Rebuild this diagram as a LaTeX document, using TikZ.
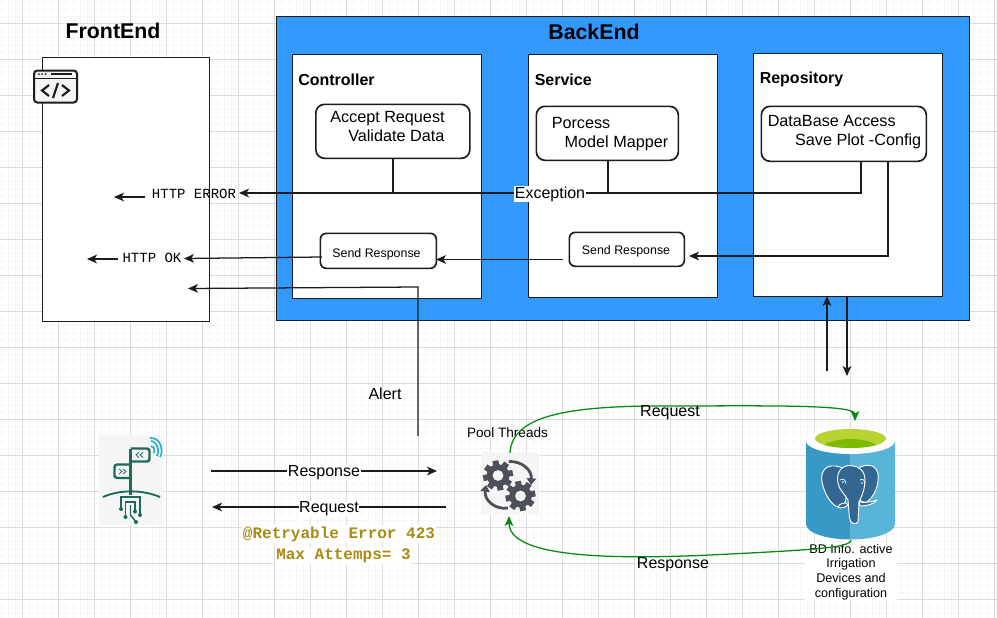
\documentclass[tikz,border=0pt]{standalone}
\usepackage{fontspec}
\setmainfont{Liberation Sans}
\setmonofont{Liberation Mono}
\usetikzlibrary{arrows.meta,calc}
\definecolor{linec}{HTML}{1C1C1C}
\definecolor{gridmaj}{HTML}{DCDCDC}
\definecolor{gridmin}{HTML}{F6F6F6}
\definecolor{blueback}{HTML}{3399FF}
\definecolor{greenarc}{HTML}{088A12}
\definecolor{retry}{HTML}{A88B10}
\definecolor{iconbg}{HTML}{F5F5F5}
\definecolor{geardark}{HTML}{4D5059}
\definecolor{teal}{HTML}{1B6B5A}
\definecolor{wifi}{HTML}{2FB0C8}
\definecolor{elephant}{HTML}{336791}
\definecolor{dbleft}{HTML}{3999C6}
\definecolor{dbright}{HTML}{59B4D9}
\definecolor{dblight}{HTML}{B8D432}
\definecolor{dbdark}{HTML}{7FBA00}
\tikzset{
  x=0.75pt,y=-0.75pt,
  tip/.style={-{Stealth[length=7.5pt,width=6.5pt,inset=2pt]}},
  conn/.style={draw=linec,line width=0.95pt,tip},
  stub/.style={draw=linec,line width=0.95pt},
  green link/.style={draw=greenarc,line width=0.95pt,-{Stealth[length=7.5pt,width=6.5pt,inset=2pt]}},
  panel/.style={draw=linec,line width=1.25pt,fill=white,inner sep=0pt,anchor=north west},
  card/.style={draw=linec,line width=1.25pt,fill=white,rounded corners=6.5pt,inner sep=0pt,anchor=north west},
  small card/.style={card,rounded corners=4.5pt},
  tx/.style={font=\fontsize{12.15}{14}\selectfont,align=left,inner sep=0pt},
  bold title/.style={font=\fontsize{16}{18}\selectfont\bfseries,inner sep=0pt},
  lane title/.style={font=\fontsize{12}{14}\selectfont\bfseries,inner sep=0pt,anchor=west},
  mono/.style={font=\fontsize{10.5}{12}\selectfont\ttfamily,inner sep=0pt},
  retrytext/.style={font=\fontsize{12}{14}\selectfont\ttfamily\bfseries,text=retry,fill=white,inner sep=1pt},
  linklabel/.style={font=\fontsize{12}{14}\selectfont,fill=white,inner sep=0.5pt,yshift=-1.5pt},
  plainlabel/.style={font=\fontsize{12}{14}\selectfont,inner sep=0pt},
}
\newcommand{\cogwheel}[3]{%
  \begin{scope}[shift={(#1,#2)}]
    \foreach \a in {0,45,...,315}{
      \fill[geardark,rotate=\a+10] (-0.2*#3,-#3) rectangle (0.2*#3,0);
    }
    \fill[geardark] (0,0) circle[radius=0.76*#3*0.75pt];
    \fill[iconbg] (0,0) circle[radius=0.36*#3*0.75pt];
  \end{scope}}
\begin{document}
\begin{tikzpicture}
\useasboundingbox (0,0) rectangle (997,618);
\fill[white] (0,0) rectangle (997,618);
% grid
\foreach \k in {0,...,138}{
  \draw[gridmin,line width=0.5pt] (1+\k*7.2,0) -- (1+\k*7.2,618);
}
\foreach \k in {0,...,85}{
  \draw[gridmin,line width=0.5pt] (0,1.7+\k*7.2) -- (997,1.7+\k*7.2);
}
\foreach \k in {0,...,27}{
  \draw[gridmaj,line width=0.6pt] (22.6+\k*36,0) -- (22.6+\k*36,618);
}
\foreach \k in {0,...,16}{
  \draw[gridmaj,line width=0.6pt] (0,23.3+\k*36) -- (997,23.3+\k*36);
}

% FrontEnd
\node[panel,minimum width=167*0.75pt,minimum height=264*0.75pt] (front) at (41.5,56.5) {};
\node[bold title] (frontT) at (113,31) {FrontEnd};
% window icon
\node[draw=linec,line width=1.5pt,fill=iconbg,rounded corners=2.5pt,minimum width=43*0.75pt,minimum height=32*0.75pt,inner sep=0pt,anchor=north west] (win) at (33,69.5) {};
\draw[linec,line width=1.1pt] (33,78.5) -- (76.5,78.5);
\draw[linec,line width=1.2pt] (51,74) -- (72,74);
\foreach \d in {39,42,45.5}{\fill[linec] (\d,74) circle[radius=0.75pt];}
\draw[linec,line width=1.6pt] (49,85) -- (42,90.5) -- (49,96);
\draw[linec,line width=1.6pt] (62,85) -- (69,90.5) -- (62,96);
\draw[linec,line width=1.6pt] (58,83) -- (53,98);

% BackEnd
\node[panel,fill=blueback,minimum width=693*0.75pt,minimum height=304*0.75pt] (back) at (275.5,15.5) {};
\node[bold title] (backT) at (594,32) {BackEnd};
\node[panel,minimum width=189*0.75pt,minimum height=244*0.75pt] (ctrl) at (291.5,53.5) {};
\node[panel,minimum width=189*0.75pt,minimum height=243*0.75pt] (serv) at (527.5,53.5) {};
\node[panel,minimum width=189*0.75pt,minimum height=243*0.75pt] (repo) at (752.5,52.5) {};
\node[lane title] (ctrlT) at (298,80) {Controller};
\node[lane title] (servT) at (534.5,80) {Service};
\node[lane title] (repoT) at (759.5,79) {Repository};

\node[card,minimum width=154*0.75pt,minimum height=54*0.75pt] (accept) at (315,103.5) {};
\node[tx,anchor=north west] (acceptT) at (330,111.5) {Accept Request\\\hspace*{13.5pt}Validate Data};
\node[card,minimum width=142*0.75pt,minimum height=54*0.75pt] (proc) at (535.5,105.5) {};
\node[tx,anchor=north west] (procT) at (551.5,117.5) {Porcess\\\hspace*{9.7pt}Model Mapper};
\node[card,minimum width=165*0.75pt,minimum height=55*0.75pt] (dba) at (760.5,105.5) {};
\node[tx,anchor=north west] (dbaT) at (767.5,115.5) {DataBase Access\\\hspace*{20.5pt}Save Plot -Config};

\node[small card,minimum width=116*0.75pt,minimum height=35*0.75pt] (sendC) at (319.5,232.5) {};
\node[small card,minimum width=115*0.75pt,minimum height=34*0.75pt] (sendS) at (568.5,231.5) {};
\node[font=\fontsize{9.3}{10}\selectfont,inner sep=0pt] (sendCT) at (376.5,254) {Send Response};
\node[font=\fontsize{9.3}{10}\selectfont,inner sep=0pt] (sendST) at (626,251) {Send Response};

% Exception connector
\coordinate (errTurn) at (861,193);
\coordinate (errFoot) at (861,161);
\coordinate (errEnd) at (239,193);
\coordinate (acceptFoot) at (393,158);
\coordinate (acceptJoin) at (393,193);
\coordinate (procFoot) at (608,160);
\coordinate (procJoin) at (608,193);
\draw[stub] (acceptFoot) -- (acceptJoin);
\draw[stub] (procFoot) -- (procJoin);
\draw[conn] (errFoot) -- (errTurn) -- (errEnd);
\node[plainlabel,fill=white,inner sep=0.5pt] (exc) at (550,194) {Exception};

% Save -> send response
\coordinate (saveFoot) at (888,161);
\coordinate (saveTurn) at (888,256);
\coordinate (saveEnd) at (689,256);
\draw[conn] (saveFoot) -- (saveTurn) -- (saveEnd);
\coordinate (sLeft) at (563,259.5);
\coordinate (cRight) at (436,259.5);
\draw[conn] (sLeft) -- (cRight);
\coordinate (cLeft) at (322,257);
\coordinate (okEnd) at (184,258.5);
\draw[conn] (cLeft) -- (okEnd);

% Frontend labels
\node[mono] (errT) at (194,194) {HTTP ERROR};
\node[mono] (okT) at (152,258) {HTTP OK};
\coordinate (e1) at (145,197);
\coordinate (e2) at (114,197);
\coordinate (o1) at (118,259);
\coordinate (o2) at (87,259);
\draw[conn] (e1) -- (e2);
\draw[conn] (o1) -- (o2);

% Alert
\coordinate (alertA) at (418,436);
\coordinate (alertB) at (418,287);
\coordinate (alertC) at (188,288.5);
\draw[conn] (alertA) -- (alertB) -- (alertC);
\node[plainlabel] (alertT) at (385,394) {Alert};

% repo <-> db
\coordinate (up1) at (827,371);
\coordinate (up2) at (827,296);
\coordinate (dn1) at (847,296);
\coordinate (dn2) at (847,376);
\draw[conn] (up1) -- (up2);
\draw[conn] (dn1) -- (dn2);

% sensor logo
\node[fill=iconbg,minimum width=64*0.75pt,minimum height=90*0.75pt,inner sep=0pt,anchor=north west] (sensor) at (99,435) {};
\begin{scope}[teal,line width=1.8pt]
  \draw (130.5,495) -- (130.5,449);
  \draw[rounded corners=2pt] (130.5,448.5) -- (149.5,448.5) -- (149.5,461.5) -- (130.5,461.5);
  \draw[rounded corners=2pt] (130.5,464.5) -- (114.5,464.5) -- (114.5,478) -- (130.5,478);
\end{scope}
\draw[teal,line width=1.4pt] (103,497) .. controls (120,489.5) and (142,489.5) .. (160,497);
\begin{scope}[teal,line width=0.6pt]
  \draw (139,452.5) -- (136,455) -- (139,457.5);
  \draw (143,452.5) -- (140,455) -- (143,457.5);
  \draw (119,469) -- (122,471.5) -- (119,474);
  \draw (123,469) -- (126,471.5) -- (123,474);
\end{scope}
\begin{scope}[teal,line width=1.1pt]
  \draw (121,509) -- (121,497) -- (140,497) -- (140,515);
  \draw (125.5,517) -- (125.5,502) -- (135,502) -- (135,511);
  \draw (136,522) -- (130.5,515) -- (130.5,505);
\end{scope}
\foreach \p/\q in {121/509,125.5/517,135/511.5,140/515,136/522}{\fill[teal] (\p,\q) circle[radius=1.5pt];}
\begin{scope}[wifi,line width=1.3pt]
  \draw (151,446) .. controls (155,447) and (155,451) .. (154,453);
  \draw (151,441) .. controls (158,442) and (160,452) .. (157,456);
  \draw (150,438) .. controls (161,437) and (164,452) .. (160,457);
\end{scope}

% sensor links
\coordinate (respA) at (211,471);
\coordinate (respB) at (437,471);
\coordinate (reqA) at (446,507);
\coordinate (reqB) at (212,507);
\draw[conn] (respA) -- (respB) node[linklabel,pos=0.5] (respT) {Response};
\draw[conn] (reqA) -- (reqB) node[linklabel,pos=0.5] (reqT) {Request};
\node[retrytext] (retry1) at (339,534) {@Retryable Error 423};
\node[retrytext] (retry2) at (343.5,556) {Max Attemps= 3};

% pool
\node[fill=iconbg,minimum width=58*0.75pt,minimum height=63*0.75pt,inner sep=0pt,anchor=north west] (pool) at (481,452) {};
\node[font=\fontsize{10.2}{11}\selectfont,inner sep=0pt] (poolT) at (507.5,433) {Pool Threads};
\cogwheel{498}{475.5}{15}
\cogwheel{520.5}{496}{15}
\draw[geardark,line width=2.1pt,-{Triangle[length=5pt,width=7pt]}] (509,461.5) .. controls (522,461) and (532,470) .. (531,485);
\draw[geardark,line width=2.1pt,-{Triangle[length=5pt,width=7pt]}] (508,508) .. controls (495,510) and (484,500) .. (486,485);

% DB text (behind the green link)
\node[fill=white,minimum width=92*0.75pt,minimum height=57*0.75pt,inner sep=0pt,anchor=north west] (dbbg) at (805,543) {};
\node[font=\fontsize{9.45}{10.9}\selectfont,align=center,inner sep=0pt] (dbT) at (851,572) {BD Info. active\\Irrigation\\Devices and\\configuration};

% DB cylinder
\coordinate (dbTop) at (850.5,441);
\fill[dbleft] (806,441) -- (806,524) arc[start angle=180,end angle=270,x radius=44.5*0.75pt,y radius=15.5*0.75pt] -- (850.5,441) -- cycle;
\fill[dbright] (895,441) -- (895,524) arc[start angle=0,end angle=-90,x radius=44.5*0.75pt,y radius=15.5*0.75pt] -- (850.5,441) -- cycle;
\fill[white] (dbTop) ellipse[x radius=44.5*0.75pt,y radius=13*0.75pt];
\fill[dblight] (850.5,438.5) ellipse[x radius=35.5*0.75pt,y radius=9.5*0.75pt];
\begin{scope}
  \clip (850.5,438.5) ellipse[x radius=35.5*0.75pt,y radius=9.5*0.75pt];
  \fill[dbdark] (850.5,449) ellipse[x radius=28*0.75pt,y radius=10*0.75pt];
\end{scope}
% elephant
\begin{scope}[draw=white,fill=elephant,line width=0.7pt,line join=round]
  \filldraw (840,467) .. controls (827,463) and (820,470) .. (822,482) .. controls (824,493) and (831,505) .. (838,507) .. controls (842,507) and (846,503) .. (846,498) -- (846,470) -- cycle;
  \filldraw (860,467) .. controls (872,462) and (880,468) .. (878,481) .. controls (877,490) and (873,497) .. (867,502) .. controls (862,503) and (858,500) .. (858,496) -- (858,470) -- cycle;
  \filldraw (851,465.5) .. controls (841,465) and (836,473) .. (838,483) .. controls (839,490) and (845,494) .. (848,500) -- (849.5,518) .. controls (850,524) and (856,525) .. (858,522) -- (859,502) .. controls (862,496) and (865,488) .. (865,480) .. controls (865,470) and (858,466) .. (851,465.5) -- cycle;
  \filldraw (846,503) .. controls (840,503) and (838,506) .. (838,507.5) .. controls (842,508.5) and (846,507) .. (848,505) -- cycle;
  \filldraw (859,502) .. controls (866,503) and (872,502) .. (877,500) .. controls (875,504) and (866,506) .. (860,506) -- cycle;
\end{scope}
\fill[white] (843,482) circle[radius=0.6pt];
\fill[white] (862,483) circle[radius=0.6pt];
\draw[white,line width=0.5pt] (840,480) .. controls (843,478) and (846,480) .. (846,484);
\draw[white,line width=0.5pt] (860,480) .. controls (862,478) and (865,480) .. (865,484);
\node[inner sep=0pt,minimum width=89*0.75pt,minimum height=112*0.75pt,anchor=north west] (db) at (806,428) {};

% green links
\coordinate (gA) at (510,453);
\coordinate (gB) at (855,421);
\coordinate (gC) at (851,540);
\coordinate (gD) at (509,516);
\draw[green link] (gA) .. controls (512,418) and (560,406) .. (660,406) .. controls (760,406) and (855,404) .. (gB);
\draw[green link] (gC) .. controls (851,548) and (810,550) .. (710,555) .. controls (600,560) and (509,556) .. (gD);
\node[plainlabel] (rqT) at (670,412.5) {Request};
\node[plainlabel] (rsT) at (673,565) {Response};
\end{tikzpicture}
\end{document}
